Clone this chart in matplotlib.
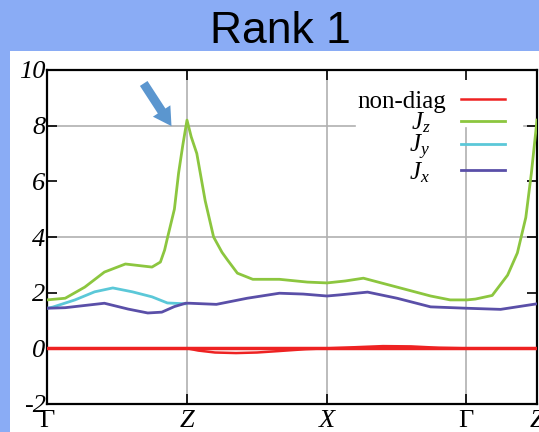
import matplotlib.pyplot as plt
from matplotlib.patches import Rectangle
from matplotlib.transforms import ScaledTranslation

# path positions of the high symmetry points
sympts = [0.0, 1.0, 2.0, 2.99, 3.5]
symlabels = ["Γ", "Z", "X", "Γ", "Z"]
symstyle = ["normal", "italic", "italic", "normal", "italic"]

# Jz along the path
kz = [0.0, 0.13, 0.27, 0.41, 0.56, 0.68, 0.75, 0.81, 0.84, 0.86, 0.91, 0.94,
      0.97, 1.0, 1.03, 1.07, 1.13, 1.19, 1.25, 1.29, 1.36, 1.47, 1.66, 1.86,
      2.0, 2.13, 2.26, 2.5, 2.74, 2.88, 3.0, 3.06, 3.18, 3.29, 3.36, 3.42,
      3.46, 3.5]
jz = [1.74, 1.8, 2.2, 2.74, 3.03, 2.96, 2.92, 3.1, 3.53, 3.96, 5.0, 6.3,
      7.3, 8.2, 7.6, 7.0, 5.3, 4.0, 3.45, 3.17, 2.7, 2.48, 2.48, 2.38,
      2.35, 2.42, 2.52, 2.2, 1.88, 1.74, 1.74, 1.77, 1.9, 2.63, 3.43, 4.7,
      6.3, 8.2]

# Jy, only differs from Jx between Gamma and Z
ky = [0.0, 0.04, 0.2, 0.34, 0.47, 0.61, 0.75, 0.86, 0.99]
jy = [1.44, 1.48, 1.74, 2.03, 2.17, 2.03, 1.85, 1.63, 1.6]

# Jx along the path
kx = [0.0, 0.13, 0.41, 0.58, 0.72, 0.82, 0.91, 0.99, 1.02, 1.21, 1.43,
      1.66, 1.83, 2.0, 2.09, 2.29, 2.5, 2.74, 3.0, 3.24, 3.5]
jx = [1.44, 1.46, 1.62, 1.41, 1.27, 1.3, 1.5, 1.62, 1.62, 1.58, 1.8,
      1.98, 1.95, 1.88, 1.92, 2.02, 1.8, 1.49, 1.44, 1.4, 1.6]

# off-diagonal components
kn = [0.0, 1.0, 1.08, 1.2, 1.35, 1.5, 1.65, 1.85, 2.0, 2.2, 2.4, 2.6, 2.8,
      2.99, 3.5]
nondiag = [0.0, 0.0, -0.08, -0.15, -0.17, -0.15, -0.1, -0.03, 0.0, 0.04,
           0.08, 0.07, 0.02, 0.0, 0.0]

yticks = [-2, 0, 2, 4, 6, 8, 10]

plt.rcParams["mathtext.fontset"] = "custom"
plt.rcParams["mathtext.rm"] = "Liberation Serif"
plt.rcParams["mathtext.it"] = "Liberation Serif:italic"

fig = plt.figure(figsize=(5.39, 4.32), dpi=100)
fig.patch.set_facecolor("#8aacf5")
fig.patches.append(Rectangle((10/539, 0), 529/539, 381/432, transform=fig.transFigure,
                             facecolor="white", edgecolor="none", zorder=-5))
fig.text(0.52, 0.928, "Rank 1", ha="center", va="center", fontsize=32,
         family="Liberation Sans")

ax = fig.add_axes([47/539, 28/432, 490/539, 334/432])

# grid lines, partly hidden behind the key
grid = dict(color="#b0b0b0", lw=1.2, zorder=1)
ax.axvline(sympts[1], **grid)
ax.axvline(sympts[2], **grid)
ax.plot([sympts[3], sympts[3]], [-2, 7.9], **grid)
ax.axhline(4, **grid)
ax.plot([0, 2.2], [8, 8], **grid)
ax.plot([3.41, 3.5], [8, 8], **grid)

ax.plot(kn, nondiag, color="#ee2222", lw=1.8, label="non-diag", zorder=3)
ax.plot([0, 3.5], [0, 0], color="#ee2222", lw=2.5, zorder=3)
ax.plot(kz, jz, color="#8cc63f", lw=2, label=r"$J_z$", zorder=3)
ax.plot(ky, jy, color="#5bc8d8", lw=2, label=r"$J_y$", zorder=3)
ax.plot(kx, jx, color="#5a4fa8", lw=2, label=r"$J_x$", zorder=3)

ax.set_xlim(0, 3.5)
ax.set_ylim(-2, 10)
ax.set_yticks(yticks)
ax.set_yticklabels([str(t) for t in yticks], fontsize=19, family="Liberation Serif",
                   style="italic")
ax.set_xticks(sympts)
ax.set_xticklabels(symlabels, fontsize=19, family="Liberation Serif")
for lab, st in zip(ax.get_xticklabels(), symstyle):
    lab.set_style(st)
ax.tick_params(direction="in", length=7, width=1.2, top=True, right=True, pad=1)
ax.tick_params(axis="x", pad=4)
for sp in ax.spines.values():
    sp.set_linewidth(1.6)

leg = ax.legend(loc="upper right", markerfirst=False,
                prop={"family": "Liberation Serif", "size": 18},
                frameon=False, handlelength=1.75, handletextpad=0.6,
                labelspacing=-0.08, borderaxespad=0.0,
                bbox_to_anchor=(0.955, 0.97))
# J labels sit a bit further left than "non-diag"
for t in leg.get_texts()[1:]:
    t.set_transform(t.get_transform() + ScaledTranslation(-0.16, 0, fig.dpi_scale_trans))

ax.annotate("", xy=(0.9, 7.9), xytext=(0.68, 9.6),
            arrowprops=dict(arrowstyle="simple,head_width=1.5,head_length=1.3,tail_width=0.65",
                            color="#5b96cf", lw=0))

fig.savefig("out.png", dpi=100, facecolor=fig.get_facecolor())
